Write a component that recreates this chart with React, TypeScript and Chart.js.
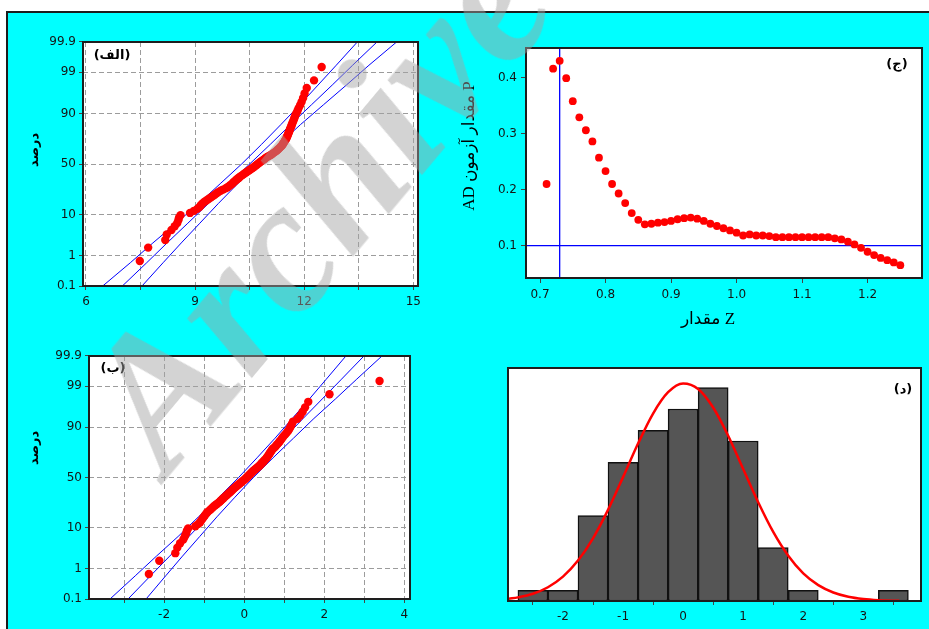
import React, { useEffect, useRef } from "react";
import { Chart, registerables } from "chart.js";

Chart.register(...registerables);

// ---------------- data ----------------
// probability axis (percent)
const PCT_TICKS = [0.1, 1, 10, 50, 90, 99, 99.9];
const PCT_LABELS = ["0.1", "1", "10", "50", "90", "99", "99.9"];

// panel (الف): original data, sorted
const RAW_VALUES = [
  7.48, 7.71, 8.18, 8.22, 8.35, 8.44, 8.51, 8.54, 8.56, 8.6,
  8.86, 8.97, 9.06, 9.12, 9.16, 9.2, 9.25, 9.31, 9.37, 9.43,
  9.49, 9.54, 9.59, 9.64, 9.7, 9.77, 9.84, 9.89, 9.94, 9.98,
  10.02, 10.05, 10.08, 10.12, 10.15, 10.19, 10.22, 10.26, 10.3, 10.34,
  10.38, 10.42, 10.46, 10.5, 10.54, 10.58, 10.62, 10.65, 10.69, 10.72,
  10.76, 10.79, 10.83, 10.87, 10.91, 10.94, 10.98, 11.03, 11.08, 11.12,
  11.16, 11.2, 11.24, 11.27, 11.3, 11.33, 11.36, 11.39, 11.41, 11.43,
  11.45, 11.47, 11.49, 11.51, 11.52, 11.54, 11.55, 11.57, 11.58, 11.6,
  11.61, 11.63, 11.65, 11.66, 11.68, 11.7, 11.72, 11.74, 11.76, 11.79,
  11.82, 11.85, 11.89, 11.93, 11.97, 12.01, 12.07, 12.27, 12.48,
];
const RAW_X_TICKS = [6, 7.5, 9, 10.5, 12, 13.5, 15];
const RAW_X_LABELS = ["6", "", "9", "", "12", "", "15"];

// percent levels at which the fitted line and its confidence band were read
const FIT_PCT = [0.1, 0.62, 2.28, 6.68, 15.87, 30.85, 50, 69.15, 84.13, 93.32, 97.72, 99.38, 99.9];
const RAW_FIT = [7.0, 7.67, 8.23, 8.8, 9.37, 9.93, 10.5, 11.07, 11.63, 12.2, 12.77, 13.33, 14.0];
const RAW_LOW = [6.46, 7.22, 7.84, 8.48, 9.1, 9.69, 10.28, 10.83, 11.36, 11.88, 12.38, 12.88, 13.46];
const RAW_HIGH = [7.54, 8.12, 8.62, 9.13, 9.64, 10.17, 10.72, 11.31, 11.9, 12.53, 13.16, 13.78, 14.54];

// panel (ب): transformed data, sorted
const TR_VALUES = [
  -2.38, -2.12, -1.72, -1.67, -1.6, -1.52, -1.48, -1.45, -1.43, -1.4,
  -1.22, -1.15, -1.1, -1.07, -1.04, -1.01, -0.98, -0.95, -0.92, -0.88,
  -0.84, -0.8, -0.77, -0.73, -0.69, -0.65, -0.61, -0.58, -0.55, -0.52,
  -0.49, -0.46, -0.43, -0.4, -0.37, -0.34, -0.31, -0.29, -0.26, -0.23,
  -0.2, -0.17, -0.14, -0.11, -0.08, -0.05, -0.02, 0.01, 0.04, 0.06,
  0.09, 0.11, 0.14, 0.16, 0.19, 0.21, 0.24, 0.27, 0.3, 0.33,
  0.36, 0.39, 0.41, 0.44, 0.46, 0.49, 0.51, 0.54, 0.56, 0.58,
  0.6, 0.62, 0.64, 0.66, 0.68, 0.7, 0.73, 0.77, 0.8, 0.83,
  0.86, 0.89, 0.92, 0.95, 0.98, 1.02, 1.06, 1.1, 1.13, 1.16,
  1.19, 1.22, 1.33, 1.4, 1.46, 1.52, 1.6, 2.13, 3.38,
];
const TR_X_TICKS = [-3, -2, -1, 0, 1, 2, 3, 4];
const TR_X_LABELS = ["", "-2", "", "0", "", "2", "", "4"];
const TR_FIT = [-2.9, -2.34, -1.86, -1.38, -0.91, -0.43, 0.045, 0.52, 1.0, 1.47, 1.95, 2.43, 2.99];
const TR_LOW = [-3.35, -2.72, -2.19, -1.65, -1.14, -0.63, -0.14, 0.32, 0.77, 1.2, 1.63, 2.05, 2.54];
const TR_HIGH = [-2.45, -1.96, -1.54, -1.11, -0.68, -0.23, 0.23, 0.72, 1.23, 1.74, 2.28, 2.81, 3.44];

// panel (ج): P value of AD test vs Z value
const Z_VALUES = [
  0.71, 0.72, 0.73, 0.74, 0.75, 0.76, 0.77, 0.78, 0.79, 0.8,
  0.81, 0.82, 0.83, 0.84, 0.85, 0.86, 0.87, 0.88, 0.89, 0.9,
  0.91, 0.92, 0.93, 0.94, 0.95, 0.96, 0.97, 0.98, 0.99, 1.0,
  1.01, 1.02, 1.03, 1.04, 1.05, 1.06, 1.07, 1.08, 1.09, 1.1,
  1.11, 1.12, 1.13, 1.14, 1.15, 1.16, 1.17, 1.18, 1.19, 1.2,
  1.21, 1.22, 1.23, 1.24, 1.25,
];
const P_VALUES = [
  0.21, 0.416, 0.43, 0.399, 0.358, 0.329, 0.306, 0.286, 0.257, 0.233,
  0.21, 0.193, 0.176, 0.158, 0.146, 0.138, 0.139, 0.141, 0.142, 0.144,
  0.147, 0.149, 0.15, 0.148, 0.144, 0.139, 0.135, 0.131, 0.127, 0.123,
  0.118, 0.12, 0.118, 0.118, 0.117, 0.115, 0.115, 0.115, 0.115, 0.115,
  0.115, 0.115, 0.115, 0.115, 0.113, 0.111, 0.107, 0.102, 0.096, 0.089,
  0.083, 0.078, 0.074, 0.07, 0.065,
];
const BEST_Z = 0.73;
const P_LIMIT = 0.1;
const Z_TICKS = [0.7, 0.8, 0.9, 1.0, 1.1, 1.2];
const Z_LABELS = ["0.7", "0.8", "0.9", "1.0", "1.1", "1.2"];
const P_TICKS = [0.1, 0.2, 0.3, 0.4];
const P_LABELS = ["0.1", "0.2", "0.3", "0.4"];

// panel (د): histogram of transformed data + fitted normal curve
const BIN_CENTERS = [-2.5, -2, -1.5, -1, -0.5, 0, 0.5, 1, 1.5, 2, 2.5, 3, 3.5];
const BIN_COUNTS = [1, 1, 8, 13, 16, 18, 20, 15, 5, 1, 0, 0, 1];
const CURVE_X = [-2.9, -2.75, -2.5, -2.25, -2, -1.75, -1.5, -1.25, -1, -0.75, -0.5, -0.25, 0, 0.25, 0.5, 0.75, 1, 1.25, 1.5, 1.75, 2, 2.25, 2.5, 2.75, 3, 3.25, 3.5, 3.6];
const CURVE_Y = [0.21, 0.34, 0.68, 1.29, 2.28, 3.79, 5.88, 8.54, 11.61, 14.76, 17.57, 19.57, 20.39, 19.88, 18.14, 15.49, 12.37, 9.25, 6.47, 4.24, 2.59, 1.49, 0.8, 0.4, 0.19, 0.08, 0.03, 0.02];
const HIST_X_TICKS = [-2, -1, 0, 1, 2, 3];
const HIST_X_LABELS = ["-2", "-1", "0", "1", "2", "3"];

// ---------------- helpers ----------------
function probit(p: number): number {
  const a = [-39.69683028665376, 220.9460984245205, -275.9285104469687, 138.357751867269, -30.66479806614716, 2.506628277459239];
  const b = [-54.47609879822406, 161.5858368580409, -155.6989798598866, 66.80131188771972, -13.28068155288572];
  const c = [-0.007784894002430293, -0.3223964580411365, -2.400758277161838, -2.549732539343734, 4.374664141464968, 2.938163982698783];
  const d = [0.007784695709041462, 0.3224671290700398, 2.445134137142996, 3.754408661907416];
  const pl = 0.02425;
  if (p < pl) {
    const q = Math.sqrt(-2 * Math.log(p));
    return (((((c[0] * q + c[1]) * q + c[2]) * q + c[3]) * q + c[4]) * q + c[5]) / ((((d[0] * q + d[1]) * q + d[2]) * q + d[3]) * q + 1);
  }
  if (p <= 1 - pl) {
    const q = p - 0.5;
    const r = q * q;
    return ((((((a[0] * r + a[1]) * r + a[2]) * r + a[3]) * r + a[4]) * r + a[5]) * q) / (((((b[0] * r + b[1]) * r + b[2]) * r + b[3]) * r + b[4]) * r + 1);
  }
  const q = Math.sqrt(-2 * Math.log(1 - p));
  return -(((((c[0] * q + c[1]) * q + c[2]) * q + c[3]) * q + c[4]) * q + c[5]) / ((((d[0] * q + d[1]) * q + d[2]) * q + d[3]) * q + 1);
}

const Z_MIN = probit(0.001);
const Z_MAX = probit(0.999);

const RED = "#ff0000";
const BLUE = "#0000ff";
const GRID_COLOR = "#9c9c9c";
const TICK_FONT = { family: "'DejaVu Sans', sans-serif", size: 12 };
const TICK_COLOR = "#151515";
const AR_FONT = "bold 13px 'DejaVu Sans', sans-serif";
const TITLE_FONT = "17px 'Liberation Serif', 'DejaVu Sans', serif";

type TextItem = { text: string; x: number; y: number; rot?: number; font: string };

function panelPlugin(texts: TextItem[]) {
  return {
    id: "panel",
    beforeDraw(chart: any) {
      const { ctx, chartArea } = chart;
      ctx.save();
      ctx.fillStyle = "#ffffff";
      ctx.fillRect(chartArea.left, chartArea.top, chartArea.right - chartArea.left, chartArea.bottom - chartArea.top);
      ctx.restore();
    },
    afterDraw(chart: any) {
      const { ctx, chartArea } = chart;
      ctx.save();
      ctx.strokeStyle = "#1e1e1e";
      ctx.lineWidth = 2;
      ctx.strokeRect(chartArea.left, chartArea.top, chartArea.right - chartArea.left, chartArea.bottom - chartArea.top);
      for (const t of texts) {
        ctx.save();
        ctx.translate(t.x, t.y);
        if (t.rot) ctx.rotate(t.rot);
        ctx.font = t.font;
        ctx.fillStyle = "#000";
        ctx.textAlign = "center";
        ctx.textBaseline = "middle";
        ctx.fillText(t.text, 0, 0);
        ctx.restore();
      }
      ctx.restore();
    },
  };
}

function fixedTicks(values: number[]) {
  return (s: any) => {
    s.ticks = values.map((v) => ({ value: v }));
  };
}

function gridOpts(onArea: boolean) {
  return {
    display: true,
    drawOnChartArea: onArea,
    color: GRID_COLOR,
    lineWidth: 1,
    tickColor: "#444",
    tickLength: 4,
    tickBorderDash: [],
  };
}

type ProbParams = {
  values: number[];
  fit: number[];
  low: number[];
  high: number[];
  xMin: number;
  xMax: number;
  xTicks: number[];
  xLabels: string[];
  padding: { left: number; top: number; right: number; bottom: number };
  yWidth: number;
  texts: TextItem[];
};

function probabilityChart(canvas: HTMLCanvasElement, p: ProbParams) {
  const n = p.values.length;
  const points = p.values.map((v, i) => ({ x: v, y: probit((i + 1 - 0.3) / (n + 0.4)) }));
  const line = (xs: number[]) => xs.map((x, i) => ({ x, y: probit(FIT_PCT[i] / 100) }));
  const lineDs = (xs: number[]) => ({
    data: line(xs),
    showLine: true,
    borderColor: BLUE,
    borderWidth: 1,
    pointRadius: 0,
    backgroundColor: BLUE,
  });
  return new Chart(canvas, {
    type: "scatter",
    data: {
      datasets: [
        { data: points, showLine: false, pointRadius: 4.2, pointBackgroundColor: RED, pointBorderWidth: 0, backgroundColor: RED },
        lineDs(p.fit),
        lineDs(p.low),
        lineDs(p.high),
      ],
    },
    options: {
      animation: false,
      responsive: false,
      events: [],
      layout: { padding: p.padding },
      plugins: { legend: { display: false }, tooltip: { enabled: false } },
      scales: {
        x: {
          type: "linear",
          min: p.xMin,
          max: p.xMax,
          afterBuildTicks: fixedTicks(p.xTicks),
          afterFit: (s: any) => {
            s.height = 24;
          },
          ticks: { callback: (_v: any, i: number) => p.xLabels[i], font: TICK_FONT, color: TICK_COLOR, padding: 5, maxRotation: 0, autoSkip: false },
          grid: gridOpts(true),
          border: { display: false, dash: [5, 3] },
        },
        y: {
          type: "linear",
          min: Z_MIN,
          max: Z_MAX,
          afterBuildTicks: fixedTicks(PCT_TICKS.map((q) => probit(q / 100))),
          afterFit: (s: any) => {
            s.width = p.yWidth;
          },
          ticks: { callback: (_v: any, i: number) => PCT_LABELS[i], font: TICK_FONT, color: TICK_COLOR, padding: 3, autoSkip: false },
          grid: gridOpts(true),
          border: { display: false, dash: [5, 3] },
        },
      },
    } as any,
    plugins: [panelPlugin(p.texts)],
  });
}

function adChart(canvas: HTMLCanvasElement) {
  const xMin = 0.6786;
  const xMax = 1.2831;
  const yMin = 0.0421;
  const yMax = 0.4529;
  return new Chart(canvas, {
    type: "scatter",
    data: {
      datasets: [
        {
          data: Z_VALUES.map((z, i) => ({ x: z, y: P_VALUES[i] })),
          showLine: false,
          pointRadius: 3.9,
          pointBackgroundColor: RED,
          pointBorderWidth: 0,
          backgroundColor: RED,
        },
        {
          data: [
            { x: BEST_Z, y: yMin },
            { x: BEST_Z, y: yMax },
          ],
          showLine: true,
          borderColor: BLUE,
          borderWidth: 1.3,
          pointRadius: 0,
        },
        {
          data: [
            { x: xMin, y: P_LIMIT },
            { x: xMax, y: P_LIMIT },
          ],
          showLine: true,
          borderColor: BLUE,
          borderWidth: 1.3,
          pointRadius: 0,
        },
      ],
    },
    options: {
      animation: false,
      responsive: false,
      events: [],
      layout: { padding: { left: 0, top: 12, right: 7, bottom: 33 } },
      plugins: { legend: { display: false }, tooltip: { enabled: false } },
      scales: {
        x: {
          type: "linear",
          position: "bottom",
          min: xMin,
          max: xMax,
          afterBuildTicks: fixedTicks(Z_TICKS),
          afterFit: (s: any) => {
            s.height = 24;
          },
          ticks: { callback: (_v: any, i: number) => Z_LABELS[i], font: TICK_FONT, color: TICK_COLOR, padding: 5, maxRotation: 0, autoSkip: false },
          grid: { ...gridOpts(false), tickLength: 5 },
          border: { display: false },
        },
        x2: {
          type: "linear",
          position: "top",
          min: xMin,
          max: xMax,
          afterBuildTicks: fixedTicks([BEST_Z]),
          afterFit: (s: any) => {
            s.height = 16;
          },
          ticks: { callback: () => BEST_Z.toFixed(2), font: TICK_FONT, color: TICK_COLOR, padding: 4, maxRotation: 0, autoSkip: false },
          grid: { display: false },
          border: { display: false },
        },
        y: {
          type: "linear",
          min: yMin,
          max: yMax,
          afterBuildTicks: fixedTicks(P_TICKS),
          afterFit: (s: any) => {
            s.width = 71;
          },
          ticks: { callback: (_v: any, i: number) => P_LABELS[i], font: TICK_FONT, color: TICK_COLOR, padding: 4, autoSkip: false },
          grid: { ...gridOpts(false), tickLength: 5 },
          border: { display: false },
        },
      },
    } as any,
    plugins: [
      panelPlugin([
        { text: "(ج)", x: 442, y: 45, font: AR_FONT },
        { text: "AD مقدار آزمون P", x: 15, y: 126, rot: -Math.PI / 2, font: TITLE_FONT },
        { text: "مقدار Z", x: 253, y: 300, font: TITLE_FONT },
      ]),
    ],
  });
}

function histChart(canvas: HTMLCanvasElement) {
  return new Chart(canvas, {
    type: "bar",
    data: {
      datasets: [
        {
          type: "line",
          data: CURVE_X.map((x, i) => ({ x, y: CURVE_Y[i] })),
          borderColor: RED,
          borderWidth: 2.5,
          pointRadius: 0,
          cubicInterpolationMode: "monotone",
          fill: false,
        },
        {
          type: "bar",
          data: BIN_CENTERS.map((x, i) => ({ x, y: BIN_COUNTS[i] })),
          backgroundColor: "#555555",
          borderColor: "#111111",
          borderWidth: 1.5,
          borderSkipped: false,
          barPercentage: 1,
          categoryPercentage: 1,
        },
      ],
    } as any,
    options: {
      animation: false,
      responsive: false,
      events: [],
      layout: { padding: { left: 53, top: 18, right: 8, bottom: 4 } },
      plugins: { legend: { display: false }, tooltip: { enabled: false } },
      scales: {
        x: {
          type: "linear",
          offset: false,
          min: -2.915,
          max: 3.96,
          afterBuildTicks: fixedTicks(HIST_X_TICKS),
          afterFit: (s: any) => {
            s.height = 24;
          },
          ticks: { callback: (_v: any, i: number) => HIST_X_LABELS[i], font: TICK_FONT, color: TICK_COLOR, padding: 5, maxRotation: 0, autoSkip: false },
          grid: gridOpts(false),
          border: { display: false },
        },
        y: { display: false, min: 0, max: 21.84 },
      },
    } as any,
    plugins: [panelPlugin([{ text: "(د)", x: 448, y: 40, font: AR_FONT }])],
  });
}

export default function App() {
  const refA = useRef<HTMLCanvasElement>(null);
  const refB = useRef<HTMLCanvasElement>(null);
  const refC = useRef<HTMLCanvasElement>(null);
  const refD = useRef<HTMLCanvasElement>(null);

  useEffect(() => {
    const charts: Chart[] = [];
    if (refA.current)
      charts.push(
        probabilityChart(refA.current, {
          values: RAW_VALUES,
          fit: RAW_FIT,
          low: RAW_LOW,
          high: RAW_HIGH,
          xMin: 5.918,
          xMax: 15.129,
          xTicks: RAW_X_TICKS,
          xLabels: RAW_X_LABELS,
          padding: { left: 0, top: 14, right: 17, bottom: 8 },
          yWidth: 68,
          texts: [
            { text: "(الف)", x: 97, y: 27.5, font: AR_FONT },
            { text: "درصد", x: 20, y: 122, rot: -Math.PI / 2, font: AR_FONT },
          ],
        })
      );
    if (refB.current)
      charts.push(
        probabilityChart(refB.current, {
          values: TR_VALUES,
          fit: TR_FIT,
          low: TR_LOW,
          high: TR_HIGH,
          xMin: -3.875,
          xMax: 4.14,
          xTicks: TR_X_TICKS,
          xLabels: TR_X_LABELS,
          padding: { left: 0, top: 16, right: 25, bottom: 2 },
          yWidth: 74,
          texts: [
            { text: "(ب)", x: 98, y: 28.5, font: AR_FONT },
            { text: "درصد", x: 20, y: 108, rot: -Math.PI / 2, font: AR_FONT },
          ],
        })
      );
    if (refC.current) charts.push(adChart(refC.current));
    if (refD.current) charts.push(histChart(refD.current));
    return () => charts.forEach((c) => c.destroy());
  }, []);

  const abs = (left: number, top: number): React.CSSProperties => ({ position: "absolute", left, top });

  return (
    <div style={{ position: "absolute", left: 0, top: 0, width: 929, height: 629, background: "#ffffff", overflow: "hidden" }}>
      <div
        style={{
          position: "absolute",
          left: 6,
          top: 11,
          width: 940,
          height: 640,
          background: "#00ffff",
          border: "2px solid #1c1c1c",
        }}
      />
      <canvas ref={refA} width={420} height={290} style={abs(15, 28)} />
      <canvas ref={refB} width={420} height={285} style={abs(15, 340)} />
      <canvas ref={refC} width={474} height={315} style={abs(455, 20)} />
      <canvas ref={refD} width={474} height={279} style={abs(455, 350)} />
      <div
        style={{
          position: "absolute",
          left: 46,
          top: 376,
          transformOrigin: "0 0",
          transform: "rotate(-50deg)",
          font: "italic bold 190px 'Liberation Serif', serif",
          lineHeight: 1,
          color: "rgba(162,162,162,0.475)",
          whiteSpace: "nowrap",
          pointerEvents: "none",
        }}
      >
        Archive
      </div>
    </div>
  );
}
